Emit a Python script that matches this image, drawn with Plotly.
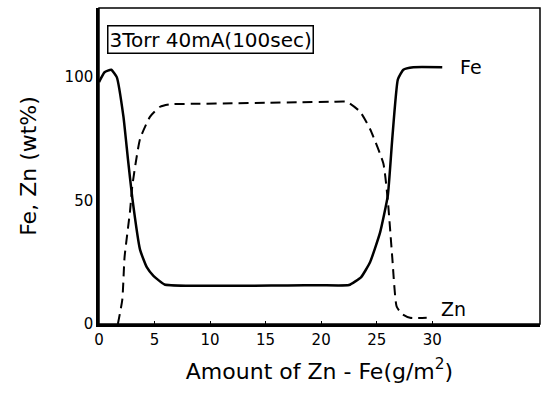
import plotly.graph_objects as go

# Data
fe_x = [0, 0.5, 1.1, 1.6, 2.2, 2.6, 3.0, 3.7, 4.3, 4.9, 5.9, 8, 11, 14, 17, 20, 22.5, 23.6, 24.4, 25.3, 26.0, 26.4, 26.9, 27.4, 28.3, 30.9]
fe_y = [98, 102, 103, 100, 84, 67, 51, 30, 23, 19.5, 16, 15.5, 15.5, 15.5, 15.6, 15.7, 15.8, 19, 25, 37, 52, 75, 99, 103, 104, 104]
zn_x = [1.7, 2.1, 2.3, 2.8, 3.0, 3.7, 4.6, 5.5, 6.4, 9, 12, 15, 18, 21, 22.3, 23.5, 24.4, 25.6, 26.0, 26.4, 26.8, 27.3, 28.0, 29.5]
zn_y = [0, 10, 27, 46, 56, 75, 84, 88, 89, 89.2, 89.4, 89.6, 89.8, 90, 90, 86, 79, 65, 50, 27, 7, 4, 2.5, 2.5]

x_ticks = [0, 5, 10, 15, 20, 25, 30]
y_ticks = [0, 50, 100]

FONT = "DejaVu Sans"

fig = go.Figure()
fig.add_trace(go.Scatter(x=fe_x, y=fe_y, mode="lines",
                         line=dict(color="black", width=2.5, shape="spline", smoothing=0.4),
                         showlegend=False))
fig.add_trace(go.Scatter(x=zn_x, y=zn_y, mode="lines",
                         line=dict(color="black", width=2, dash="10px,6px", shape="spline", smoothing=0.5),
                         showlegend=False))

fig.add_annotation(x=32.3, y=104, text="Fe", showarrow=False, xanchor="left",
                   font=dict(family=FONT, size=19, color="black"))
fig.add_annotation(x=30.6, y=5.9, text="Zn", showarrow=False, xanchor="left",
                   font=dict(family=FONT, size=19, color="black"))
fig.add_annotation(x=0.018, y=0.9, xref="paper", yref="paper", xanchor="left", yanchor="middle",
                   text="3Torr 40mA(100sec)", showarrow=False,
                   font=dict(family=FONT, size=20, color="black"),
                   bordercolor="black", borderwidth=1.5, borderpad=1, bgcolor="white")

fig.add_shape(type="rect", xref="paper", yref="paper", x0=0, y0=0, x1=1, y1=1,
              line=dict(color="black", width=1.5), layer="above")

fig.update_layout(
    width=544, height=396,
    margin=dict(l=99, r=4, t=8, b=72),
    plot_bgcolor="white", paper_bgcolor="white",
    font=dict(family=FONT, color="black"),
)
fig.update_xaxes(range=[0, 39.7], tickvals=x_ticks, ticktext=[str(v) for v in x_ticks],
                 showgrid=False, zeroline=False, showline=True, linecolor="black", linewidth=2.5,
                 ticks="inside", ticklen=3, tickcolor="black",
                 tickfont=dict(family=FONT, size=15),
                 title=dict(text="Amount of Zn - Fe(g/m<sup>2</sup>)", font=dict(family=FONT, size=22), standoff=16))
fig.update_yaxes(range=[0, 128], tickvals=y_ticks, ticktext=[str(v) for v in y_ticks],
                 showgrid=False, zeroline=False, showline=True, linecolor="black", linewidth=2.5,
                 ticks="", tickfont=dict(family=FONT, size=15),
                 title=dict(text="Fe, Zn (wt%)", font=dict(family=FONT, size=22), standoff=22))

fig.write_html("out.html")
